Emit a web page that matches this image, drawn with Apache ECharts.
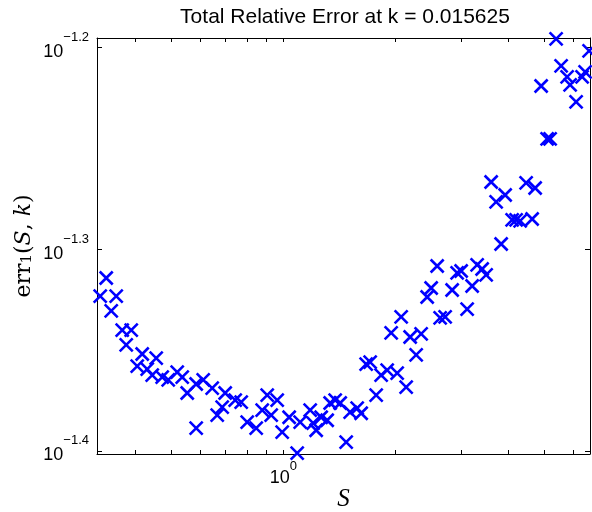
<!DOCTYPE html>
<html>
<head>
<meta charset="utf-8">
<script src="https://cdn.jsdelivr.net/npm/echarts@6/dist/echarts.min.js"></script>
<style>html,body{margin:0;padding:0;background:#fff;}#c{width:592px;height:512px;}</style>
</head>
<body>
<div id="c"></div>
<script>
const titleText = 'Total Relative Error at k = 0.015625';
const xMinorTicks = [0.4, 0.5, 0.6, 0.7, 0.8, 0.9, 1, 2, 3, 4, 5, 6];
const xTickLabels = [1];
const yTicks = [-1.4, -1.3, -1.2];
const xRange = [0.3162, 6.637];
const yRange = [0.03967, 0.06379];

const S = [0.3225,0.3347,0.3560,0.3452,0.3694,0.3906,0.3787,0.4180,0.4053,0.4557,
0.4311,0.4446,0.4729,0.4908,0.5188,0.5351,0.5519,0.5833,0.6091,0.5833,
0.6439,0.6977,0.6849,0.6641,0.7422,0.7702,0.7993,0.8449,0.9043,0.9619,
0.8768,0.9269,0.9920,1.0358,1.1086,1.0882,1.1792,1.2012,1.2237,1.2621,
1.3097,1.3342,1.3760,1.4191,1.4727,1.5095,1.5761,1.6155,1.7723,1.6661,
1.7078,1.8278,1.8968,2.0176,2.1329,1.9442,2.0680,2.1862,2.2687,2.3397,
2.6310,2.7134,3.1081,2.4281,2.4887,2.8332,3.2056,2.5827,2.9220,2.9951,
3.3060,3.4097,3.4949,3.8340,4.1033,4.2059,4.3111,4.6425,3.6045,3.7174,
3.9298,4.4738,4.7293,5.0930,5.1882,4.9080,5.3839,5.5527,5.7622,5.8699,
6.0913,6.3212,6.4394,6.6004];
const err = [0.04751,0.04850,0.04751,0.04671,0.04570,0.04570,0.04493,0.04447,0.04386,0.04426,
0.04371,0.04341,0.04331,0.04317,0.04356,0.04331,0.04253,0.04297,0.04317,0.04086,
0.04277,0.04253,0.04185,0.04147,0.04219,0.04209,0.04114,0.04086,0.04243,0.04219,
0.04171,0.04147,0.04067,0.04137,0.04114,0.03971,0.04171,0.04109,0.04076,0.04137,
0.04123,0.04205,0.04219,0.04205,0.04021,0.04161,0.04180,0.04156,0.04243,0.04396,
0.04406,0.04341,0.04366,0.04351,0.04282,0.04555,0.04639,0.04534,0.04442,0.04550,
0.04634,0.04639,0.04681,0.04746,0.04795,0.04784,0.04806,0.04917,0.04878,0.04889,
0.04923,0.04900,0.04867,0.05042,0.05183,0.05183,0.05177,0.05188,0.05412,0.05290,
0.05332,0.05406,0.05375,0.05685,0.05685,0.06039,0.06373,0.06179,0.06102,0.06046,
0.05930,0.06102,0.06137,0.06286];

const lg = Math.log10;
const points = S.map((s, i) => [lg(s), lg(err[i])]);
const xMin = lg(xRange[0]), xMax = lg(xRange[1]);
const yMin = lg(yRange[0]), yMax = lg(yRange[1]);

const makeRich = L => ({
  b: {fontFamily: 'Liberation Sans', fontSize: 18, color: '#000', lineHeight: L, verticalAlign: 'middle'},
  s: {fontFamily: 'Liberation Sans', fontSize: 13, color: '#000', lineHeight: 13, verticalAlign: 'top'}
});
const fmtPow = v => '{b|10}{s|' + (v < 0 ? '\u2212' : '') + (Math.abs(v) < 1e-9 ? '0' : Math.abs(v).toFixed(1)) + '}';

const axisLineStyle = {show: true, onZero: false, lineStyle: {color: '#000', width: 1}};

const chart = echarts.init(document.getElementById('c'), null, {renderer: 'canvas'});
chart.setOption({
  animation: false,
  backgroundColor: '#fff',
  title: {
    text: titleText, left: 340, top: 2, textAlign: 'center',
    textStyle: {fontFamily: 'Liberation Sans', fontSize: 21, fontWeight: 'normal', color: '#000'}
  },
  grid: {left: 97, right: 2, top: 38, bottom: 58, containLabel: false, outerBoundsMode: 'none'},
  xAxis: [{
    type: 'value', min: xMin, max: xMax, position: 'bottom',
    axisLine: axisLineStyle,
    axisTick: {show: true, inside: true, length: 4, lineStyle: {color: '#000'}, customValues: xMinorTicks.map(lg)},
    axisLabel: {show: true, margin: 6, customValues: xTickLabels.map(lg), formatter: v => fmtPow(v), rich: makeRich(36)},
    splitLine: {show: false},
    name: 'S', nameLocation: 'middle', nameGap: 33, nameMoveOverlap: false,
    nameTextStyle: {fontFamily: 'Liberation Serif', fontStyle: 'italic', fontSize: 25, color: '#000'}
  }, {
    type: 'value', min: xMin, max: xMax, position: 'top',
    axisLine: axisLineStyle,
    axisTick: {show: true, inside: true, length: 4, lineStyle: {color: '#000'}, customValues: xMinorTicks.map(lg)},
    axisLabel: {show: false},
    splitLine: {show: false}
  }],
  yAxis: [{
    type: 'value', min: yMin, max: yMax, position: 'left',
    axisLine: axisLineStyle,
    axisTick: {show: true, inside: true, length: 5, lineStyle: {color: '#000'}, customValues: yTicks},
    axisLabel: {show: true, margin: 8, padding: [9, 0, 0, 0], customValues: yTicks, formatter: v => fmtPow(v), rich: makeRich(42)},
    splitLine: {show: false},
    name: '{r|err}{sub|1}{r|(}{i|S}{r|, }{i|k}{r|)}', nameLocation: 'middle', nameGap: 62, nameRotate: 90, nameMoveOverlap: false,
    nameTextStyle: {
      color: '#000',
      rich: {
        r: {fontFamily: 'DejaVu Serif', fontSize: 22, color: '#000'},
        i: {fontFamily: 'DejaVu Serif', fontStyle: 'italic', fontSize: 22, color: '#000'},
        sub: {fontFamily: 'DejaVu Serif', fontSize: 15, color: '#000', verticalAlign: 'bottom', lineHeight: 16}
      }
    }
  }, {
    type: 'value', min: yMin, max: yMax, position: 'right',
    axisLine: axisLineStyle,
    axisTick: {show: true, inside: true, length: 5, lineStyle: {color: '#000'}, customValues: yTicks},
    axisLabel: {show: false},
    splitLine: {show: false}
  }],
  series: [{
    type: 'scatter',
    xAxisIndex: 0, yAxisIndex: 0,
    data: points,
    clip: false,
    symbol: 'path://M0,0L10,10M10,0L0,10',
    symbolSize: 13,
    itemStyle: {color: 'none', borderColor: '#0000ff', borderWidth: 2.6, opacity: 1},
    emphasis: {disabled: true}
  }]
});
</script>
</body>
</html>
